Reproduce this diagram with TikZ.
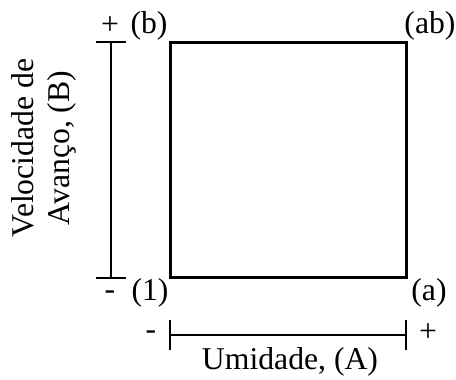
\documentclass[tikz,border=0pt]{standalone}
\usepackage{fontspec}
\setmainfont{Liberation Serif}
\begin{document}
\begin{tikzpicture}[x=1pt,y=-1pt,font=\fontsize{31.7}{36}\selectfont,
  bar/.style={line width=2pt},
  lbl/.style={inner sep=0pt}]
\useasboundingbox (0,0) rectangle (456,380);
% square of the four treatments
\draw[line width=3pt] (170,42) rectangle (406,277);
\node[lbl] (b) at (149,26) {(b)};
\node[lbl] (ab) at (430,26) {(ab)};
\node[lbl] (one) at (150,293) {(1)};
\node[lbl] (a) at (429,293) {(a)};
% factor B
\coordinate (Btop) at (111,42);
\coordinate (Bbot) at (111,278);
\draw[bar] (Btop)--(Bbot);
\draw[bar] ([xshift=-15pt]Btop)--([xshift=15pt]Btop);
\draw[bar] ([xshift=-15pt]Bbot)--([xshift=15pt]Bbot);
\node[lbl] (Bplus) at (110,26) {+};
\node[lbl] (Bminus) at (110,295) {-};
\node[lbl,rotate=90,align=center] (Blab) at (44,148) {Velocidade de\\Avanço, (B)};
% factor A
\coordinate (Aleft) at (170,335);
\coordinate (Aright) at (406,335);
\draw[bar] (Aleft)--(Aright);
\draw[bar] ([yshift=-15pt]Aleft)--([yshift=15pt]Aleft);
\draw[bar] ([yshift=-15pt]Aright)--([yshift=15pt]Aright);
\node[lbl] (Aminus) at (151,335) {-};
\node[lbl] (Aplus) at (428,333) {+};
\node[lbl] (Alab) at (290,362) {Umidade, (A)};
\end{tikzpicture}
\end{document}
